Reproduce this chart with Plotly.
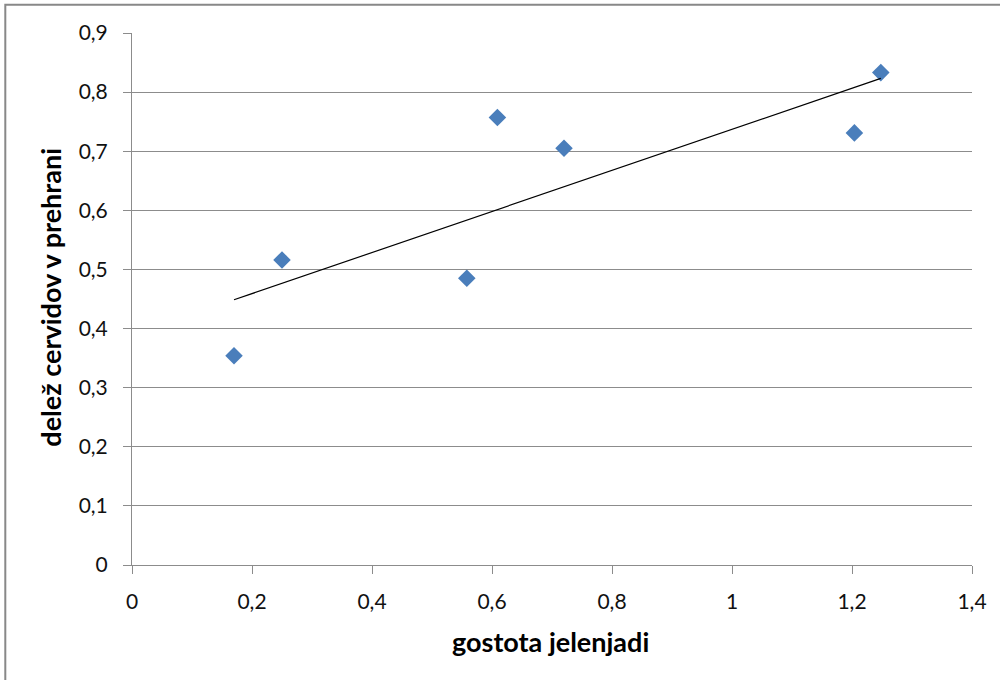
import numpy as np
import plotly.graph_objects as go

gostota = [0.17, 0.25, 0.558, 0.609, 0.72, 1.204, 1.248]
delez = [0.354, 0.516, 0.485, 0.757, 0.705, 0.731, 0.833]

x_title = "gostota jelenjadi"
y_title = "delež cervidov v prehrani"

slope, intercept = np.polyfit(gostota, delez, 1)
tx = [min(gostota), max(gostota)]
ty = [slope * v + intercept for v in tx]

fig = go.Figure()
fig.add_trace(go.Scatter(
    x=gostota, y=delez, mode="markers",
    marker=dict(symbol="diamond", size=13.5, color="#4a7ebb", line=dict(width=0)),
    showlegend=False, hoverinfo="x+y"))
fig.add_trace(go.Scatter(
    x=tx, y=ty, mode="lines",
    line=dict(color="#000000", width=1.2),
    showlegend=False, hoverinfo="skip"))

font_family = "Lato, 'Open Sans', sans-serif"
L, R, T, B = 131.7, 971.7, 33.3, 565.0
W, H = R - L, B - T

fig.update_layout(
    width=1000, height=680,
    margin=dict(l=L, r=1000 - R, t=T, b=680 - B, autoexpand=False),
    paper_bgcolor="white", plot_bgcolor="white",
    separators=", ",
    font=dict(family=font_family, size=21, color="#111111"),
    xaxis=dict(
        range=[0, 1.4], dtick=0.2, tick0=0,
        showgrid=False, zeroline=False,
        showline=True, linecolor="#8c8c8c", linewidth=1,
        ticks="outside", ticklen=8, tickcolor="#8c8c8c",
        ticklabelstandoff=10,
        tickfont=dict(size=21),
    ),
    yaxis=dict(
        range=[0, 0.9], dtick=0.1, tick0=0,
        showgrid=True, gridcolor="#8c8c8c", gridwidth=1,
        zeroline=False,
        showline=True, linecolor="#8c8c8c", linewidth=1,
        ticks="outside", ticklen=8, tickcolor="#8c8c8c",
        ticklabelstandoff=11,
        tickfont=dict(size=21),
    ),
    annotations=[
        dict(text="<b>" + x_title + "</b>", xref="paper", yref="paper",
             x=(550 - L) / W, y=(B - 641) / H, xanchor="center", yanchor="middle",
             showarrow=False, font=dict(size=27, color="#000000")),
        dict(text="<b>" + y_title + "</b>", xref="paper", yref="paper",
             x=(50 - L) / W, y=(B - 297.5) / H, xanchor="center", yanchor="middle",
             textangle=-90, showarrow=False, font=dict(size=27, color="#000000")),
    ],
    shapes=[dict(
        type="rect", xref="paper", yref="paper",
        x0=(5 - L) / W, x1=(1010 - L) / W,
        y0=(B - 690) / H, y1=(B - 5) / H,
        line=dict(color="#888888", width=2), fillcolor="rgba(0,0,0,0)", layer="below")],
)

fig.write_html("out.html")
